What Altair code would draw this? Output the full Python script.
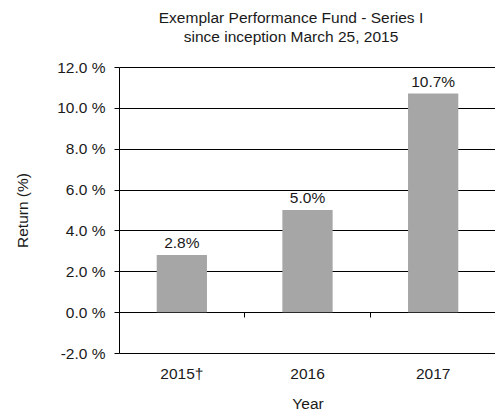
import altair as alt
import pandas as pd

years = ["2015†", "2016", "2017"]
returns = [2.8, 5.0, 10.7]
labels = ["2.8%", "5.0%", "10.7%"]
y_ticks = [-2, 0, 2, 4, 6, 8, 10, 12]

df = pd.DataFrame({"Year": years, "Return": returns, "Label": labels})

FONT = "Liberation Sans"
FS = 15.5
TXT = "#1a1a1a"

x = alt.X(
    "Year:N",
    sort=years,
    scale=alt.Scale(paddingInner=0, paddingOuter=0, range=[0, 377]),
    axis=alt.Axis(
        title="Year",
        offset=-41,
        domain=False,
        ticks=True,
        tickSize=5,
        tickColor="#000000",
        bandPosition=0,
        labelPadding=49,
        labelAngle=0,
        labelFont=FONT,
        labelFontSize=FS,
        labelColor=TXT,
        titleFont=FONT,
        titleFontSize=FS,
        titleFontWeight="normal",
        titleColor=TXT,
        titlePadding=15,
    ),
)

y = alt.Y(
    "Return:Q",
    scale=alt.Scale(domain=[-2, 12], nice=False, zero=False),
    axis=alt.Axis(
        title="Return (%)",
        values=y_ticks,
        labelExpr="(datum.value < 0 ? '-' : '') + format(abs(datum.value), '.1f') + ' %'",
        grid=True,
        gridColor="#000000",
        gridWidth=1,
        gridOpacity=1,
        domain=True,
        domainColor="#000000",
        tickColor="#000000",
        tickSize=5,
        labelPadding=9,
        labelFont=FONT,
        labelFontSize=FS,
        labelColor=TXT,
        titleFont=FONT,
        titleFontSize=FS,
        titleFontWeight="normal",
        titleColor=TXT,
        titlePadding=26,
    ),
)

bars = alt.Chart(df).mark_bar(
    color="#a6a6a6", width=alt.RelativeBandSize(0.4)
).encode(x=x, y=y)

text = alt.Chart(df).mark_text(
    baseline="alphabetic", dy=-7, font=FONT, fontSize=FS, color=TXT
).encode(x=alt.X("Year:N", sort=years), y="Return:Q", text="Label:N")

chart = (
    alt.layer(bars, text)
    .properties(
        width=376,
        height=286,
        autosize=alt.AutoSizeParams(type="none"),
        padding={"left": 119, "top": 67, "right": 0, "bottom": 60},
        title=alt.TitleParams(
            text=["Exemplar Performance  Fund - Series I", "since inception March 25, 2015"],
            font=FONT,
            fontSize=FS,
            fontWeight="normal",
            color=TXT,
            anchor="middle",
            frame="group",
            dx=-16,
            offset=15,
            lineHeight=18.5,
        ),
    )
    .configure_view(stroke=None)
)

chart.save("out.html", embed_options={"renderer": "svg", "actions": False})
